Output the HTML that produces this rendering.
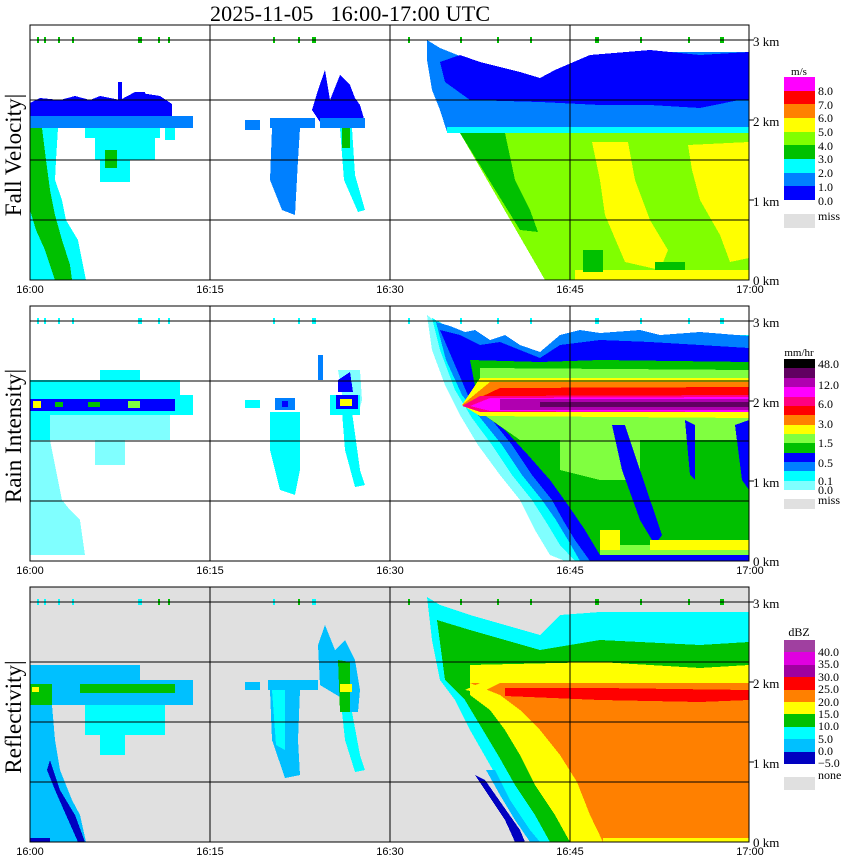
<!DOCTYPE html>
<html><head><meta charset="utf-8"><style>
html,body{margin:0;padding:0;background:#fff;}
svg{display:block;}
.s{font-family:"Liberation Serif",serif;}
.a{font-family:"Liberation Sans",sans-serif;}
</style></head><body>
<svg width="850" height="868" viewBox="0 0 850 868" xmlns="http://www.w3.org/2000/svg" shape-rendering="crispEdges">
<text x="210" y="21" class="s" font-size="22" textLength="280" lengthAdjust="spacing" xml:space="preserve">2025-11-05   16:00-17:00 UTC</text>

<!-- ============ PANEL 1 : Fall velocity ============ -->
<g>
<polygon fill="#0000ff" points="30,103 40,98 60,100 75,96 90,100 100,96 120,100 135,92 160,96 172,104 172,118 30,118"/>
<rect x="118" y="82" width="4" height="18" fill="#0000ff"/><rect x="135" y="92" width="10" height="10" fill="#0000ff"/>
<rect x="30" y="116" width="163" height="12" fill="#0080ff"/>
<polygon fill="#00ffff" points="30,128 58,128 56,160 55,180 62,200 66,220 78,240 86,280 30,280"/>
<polygon fill="#00c000" points="30,128 42,128 46,160 50,190 55,215 62,240 70,265 72,280 55,280 45,250 36,230 30,210"/>
<rect x="85" y="128" width="75" height="10" fill="#00ffff"/>
<rect x="95" y="138" width="55" height="22" fill="#00ffff"/>
<rect x="100" y="160" width="30" height="22" fill="#00ffff"/>
<rect x="105" y="150" width="12" height="18" fill="#00c000"/>
<rect x="140" y="135" width="15" height="25" fill="#00ffff"/>
<rect x="165" y="128" width="10" height="12" fill="#00ffff"/>
<polygon fill="#0000ff" points="318,90 325,70 330,100 340,75 350,85 355,98 360,105 365,122 320,122 312,110"/>
<rect x="245" y="120" width="15" height="10" fill="#0080ff"/>
<rect x="270" y="118" width="45" height="10" fill="#0080ff"/>
<rect x="320" y="118" width="45" height="10" fill="#0080ff"/>
<polygon fill="#0080ff" points="272,128 300,128 298,160 295,215 282,210 270,180"/>
<polygon fill="#00ffff" points="340,128 352,128 355,175 365,210 358,212 344,180"/>
<rect x="342" y="128" width="8" height="20" fill="#00c000"/>
<polygon fill="#0080ff" points="427,40 440,48 470,60 520,72 540,78 555,70 590,55 650,52 749,52 749,132 447,132 440,110 432,90 427,60"/>
<polygon fill="#0000ff" points="440,62 460,55 480,62 520,72 540,78 555,70 590,55 650,50 700,55 749,52 749,98 700,108 650,105 600,105 540,102 470,100 445,82"/>
<rect x="470" y="92" width="279" height="8" fill="#0000ff"/>
<rect x="447" y="127" width="302" height="6" fill="#00ffff"/>
<polygon fill="#80ff00" points="460,133 749,133 749,280 545,280"/>
<polygon fill="#00c000" points="460,133 505,133 515,180 530,210 538,232 520,230"/>
<polygon fill="#ffff00" points="592,142 628,142 635,180 650,220 668,250 660,270 625,262 605,215 600,180"/>
<polygon fill="#ffff00" points="688,145 749,142 749,258 730,262 720,235 700,200 692,170"/>
<rect x="575" y="270" width="174" height="10" fill="#ffff00"/>
<rect x="583" y="250" width="20" height="22" fill="#00c000"/>
<rect x="655" y="262" width="30" height="8" fill="#00c000"/>
<g fill="#00c000"><rect x="37" y="37" width="2" height="6"/><rect x="44" y="37" width="2" height="6"/><rect x="58" y="37" width="2" height="6"/><rect x="72" y="37" width="2" height="6"/><rect x="138" y="37" width="4" height="6"/><rect x="158" y="37" width="2" height="6"/><rect x="168" y="37" width="2" height="6"/><rect x="273" y="37" width="2" height="6"/><rect x="298" y="37" width="2" height="6"/><rect x="312" y="37" width="4" height="6"/><rect x="408" y="37" width="2" height="6"/><rect x="460" y="37" width="2" height="6"/><rect x="497" y="37" width="2" height="6"/><rect x="530" y="37" width="2" height="6"/><rect x="595" y="37" width="4" height="6"/><rect x="640" y="37" width="2" height="6"/><rect x="688" y="37" width="2" height="6"/><rect x="720" y="37" width="4" height="6"/></g>
</g>

<!-- ============ PANEL 2 : Rain intensity ============ -->
<g>
<rect x="30" y="380" width="150" height="18" fill="#00ffff"/>
<rect x="100" y="370" width="40" height="12" fill="#00ffff"/>
<rect x="30" y="412" width="140" height="28" fill="#80ffff"/>
<rect x="30" y="412" width="20" height="30" fill="#00ffff"/>
<rect x="95" y="440" width="30" height="25" fill="#80ffff"/>
<polygon fill="#80ffff" points="30,440 50,440 55,465 62,500 70,510 80,520 85,555 30,555"/>
<rect x="30" y="395" width="163" height="20" fill="#00ffff"/>
<rect x="30" y="399" width="145" height="12" fill="#0000ff"/>
<rect x="33" y="401" width="8" height="7" fill="#ffff00"/><rect x="55" y="402" width="8" height="5" fill="#00c000"/><rect x="88" y="402" width="12" height="5" fill="#00c000"/><rect x="128" y="401" width="12" height="7" fill="#80ff40"/>
<rect x="245" y="400" width="15" height="8" fill="#00ffff"/>
<rect x="275" y="398" width="20" height="12" fill="#0080ff"/><rect x="282" y="401" width="6" height="6" fill="#0000ff"/>
<polygon fill="#00ffff" points="270,412 300,412 300,470 295,495 280,490 270,450"/>
<polygon fill="#80ffff" points="338,370 360,370 362,400 358,415 345,412"/>
<rect x="330" y="395" width="30" height="20" fill="#00ffff"/>
<polygon fill="#0000ff" points="338,380 350,372 353,392 338,392"/>
<rect x="336" y="395" width="22" height="14" fill="#0000ff"/>
<rect x="340" y="399" width="12" height="7" fill="#ffff00"/>
<polygon fill="#00ffff" points="342,412 352,412 360,470 365,485 355,487 345,450"/>
<rect x="318" y="355" width="5" height="25" fill="#0080ff"/>
<polygon fill="#80ffff" points="427,315 440,325 470,335 540,355 560,340 600,335 749,335 749,561 565,561 550,555 535,530 520,500 500,475 478,445 460,415 445,385 432,350"/>
<polygon fill="#00ffff" points="432,318 445,325 470,335 540,355 560,340 600,335 749,335 749,561 575,561 560,545 548,525 532,500 512,475 492,445 472,418 455,390 440,350"/>
<polygon fill="#0080ff" points="436,322 450,326 465,332 475,330 490,340 505,335 520,345 540,352 560,335 580,330 600,333 640,330 660,335 700,332 749,336 749,561 580,561 568,540 556,520 542,500 522,475 502,445 482,420 462,395 446,360"/>
<polygon fill="#0000ff" points="440,330 460,335 480,345 500,342 540,358 560,345 600,340 650,342 700,345 749,348 749,561 590,561 575,540 563,520 552,500 532,475 512,445 492,420 470,400 455,365"/>
<polygon fill="#00c000" points="470,360 540,362 600,360 749,362 749,555 600,555 585,530 568,505 550,480 528,455 505,430 480,412"/>
<rect x="600" y="545" width="149" height="10" fill="#80ff40"/>
<polygon fill="#80ff40" points="480,368 749,370 749,440 600,440 520,440 480,412"/>
<polygon fill="#80ff40" points="560,440 640,440 640,480 600,480 560,470"/>
<polygon fill="#ffff00" points="480,378 749,378 749,418 480,416 462,405"/>
<polygon fill="#ff8000" points="490,382 749,382 749,414 490,412 462,405"/>
<polygon fill="#ff0000" points="500,388 749,387 749,413 500,413 462,406"/>
<polygon fill="#ff0080" points="480,396 749,395 749,412 480,412 462,406"/>
<polygon fill="#ff00ff" points="490,398 749,397 749,412 490,411 470,406"/>
<rect x="500" y="399" width="249" height="11" fill="#b000b0"/>
<rect x="540" y="402" width="209" height="5" fill="#600060"/>
<rect x="480" y="412" width="269" height="4" fill="#ffff00"/>
<polygon fill="#0000ff" points="612,425 625,425 640,470 662,535 655,545 640,520 622,470"/>
<polygon fill="#0000ff" points="685,420 695,425 695,480 690,475"/>
<polygon fill="#0000ff" points="735,425 749,420 749,490 742,480"/>
<rect x="600" y="530" width="20" height="20" fill="#ffff00"/>
<rect x="650" y="540" width="99" height="10" fill="#ffff00"/>
<rect x="590" y="555" width="159" height="6" fill="#0000ff"/>
<g fill="#00ffff"><rect x="37" y="318" width="2" height="6"/><rect x="44" y="318" width="2" height="6"/><rect x="58" y="318" width="2" height="6"/><rect x="72" y="318" width="2" height="6"/><rect x="138" y="318" width="4" height="6"/><rect x="158" y="318" width="2" height="6"/><rect x="168" y="318" width="2" height="6"/><rect x="273" y="318" width="2" height="6"/><rect x="298" y="318" width="2" height="6"/><rect x="312" y="318" width="4" height="6"/><rect x="408" y="318" width="2" height="6"/><rect x="460" y="318" width="2" height="6"/><rect x="497" y="318" width="2" height="6"/><rect x="530" y="318" width="2" height="6"/><rect x="595" y="318" width="4" height="6"/><rect x="640" y="318" width="2" height="6"/><rect x="688" y="318" width="2" height="6"/><rect x="720" y="318" width="4" height="6"/></g>
</g>

<!-- ============ PANEL 3 : Reflectivity ============ -->
<g>
<rect x="30" y="587" width="719" height="255" fill="#e0e0e0"/>
<rect x="30" y="665" width="110" height="18" fill="#00c0ff"/>
<rect x="30" y="680" width="163" height="25" fill="#00c0ff"/>
<rect x="85" y="705" width="80" height="30" fill="#00ffff"/>
<rect x="100" y="735" width="25" height="20" fill="#00ffff"/>
<rect x="30" y="700" width="22" height="25" fill="#00ffff"/>
<rect x="80" y="684" width="95" height="9" fill="#00c000"/>
<rect x="30" y="684" width="22" height="22" fill="#00c000"/>
<rect x="32" y="687" width="7" height="5" fill="#ffff00"/>
<polygon fill="#00c0ff" points="30,705 52,705 55,740 60,770 72,800 80,815 86,842 30,842"/>
<polygon fill="#0000c0" points="50,760 60,790 75,815 85,842 78,842 66,815 55,790 47,770"/>
<rect x="30" y="838" width="20" height="4" fill="#0000c0"/>
<rect x="245" y="682" width="15" height="8" fill="#00c0ff"/>
<rect x="268" y="680" width="50" height="10" fill="#00c0ff"/>
<polygon fill="#00c0ff" points="270,690 300,690 298,740 300,775 285,778 272,740"/>
<polygon fill="#00ffff" points="272,690 285,690 285,750 276,745"/>
<polygon fill="#00c0ff" points="318,645 325,625 335,650 345,640 355,660 360,690 358,712 350,712 345,700 320,685"/>
<polygon fill="#00c000" points="338,660 350,662 350,712 340,712"/>
<rect x="340" y="684" width="12" height="8" fill="#ffff00"/>
<polygon fill="#00ffff" points="342,712 352,712 360,755 365,770 355,772 345,740"/>
<polygon fill="#00ffff" points="427,597 440,605 470,615 540,635 560,615 600,612 749,612 749,842 540,842 530,830 510,800 490,765 470,730 455,700 440,680 432,640"/>
<polygon fill="#00c0ff" points="495,770 510,800 530,830 540,842 530,842 515,820 500,795 486,770"/>
<polygon fill="#0000c0" points="475,775 485,780 520,830 525,842 515,842 505,820"/>
<polygon fill="#00c000" points="437,620 470,630 540,650 600,640 700,645 749,642 749,842 550,842 535,815 515,785 498,755 480,725 465,700 445,680"/>
<polygon fill="#ffff00" points="470,665 600,662 700,668 749,665 749,842 570,842 555,815 535,785 520,755 505,730 490,710 470,695"/>
<polygon fill="#ff8000" points="470,683 749,683 749,842 603,842 590,815 577,782 560,755 540,730 520,710 500,695"/>
<polygon fill="#ffff00" points="465,690 480,683 500,683 480,693"/>
<polygon fill="#ff0000" points="505,688 600,688 749,690 749,700 700,702 600,700 505,696"/>
<rect x="603" y="838" width="146" height="4" fill="#ffff00"/>
<g fill="#00c000"><rect x="37" y="599" width="2" height="6" fill="#00ffff"/><rect x="44" y="599" width="2" height="6" fill="#00ffff"/><rect x="58" y="599" width="2" height="6" fill="#00ffff"/><rect x="72" y="599" width="2" height="6" fill="#00ffff"/><rect x="138" y="599" width="4" height="6" fill="#00ffff"/><rect x="158" y="599" width="2" height="6"/><rect x="168" y="599" width="2" height="6"/><rect x="273" y="599" width="2" height="6" fill="#00ffff"/><rect x="298" y="599" width="2" height="6"/><rect x="312" y="599" width="4" height="6" fill="#00ffff"/><rect x="408" y="599" width="2" height="6"/><rect x="460" y="599" width="2" height="6"/><rect x="497" y="599" width="2" height="6"/><rect x="530" y="599" width="2" height="6"/><rect x="595" y="599" width="4" height="6"/><rect x="640" y="599" width="2" height="6"/><rect x="688" y="599" width="2" height="6"/><rect x="720" y="599" width="4" height="6"/></g>
</g>

<g fill="none" stroke="#000" stroke-width="1.3">
<rect x="30" y="25" width="719" height="255"/>
<rect x="30" y="306" width="719" height="255"/>
<rect x="30" y="587" width="719" height="255"/>
<path d="M30 40H749M30 100H749M30 160H749M30 220H749M210 25V280M390 25V280M570 25V280"/>
<path d="M30 321H749M30 381H749M30 441H749M30 501H749M210 306V561M390 306V561M570 306V561"/>
<path d="M30 602H749M30 662H749M30 722H749M30 782H749M210 587V842M390 587V842M570 587V842"/>
<path d="M749 40H754M749 120H754M749 200H754M749 321H754M749 401H754M749 481H754M749 602H754M749 682H754M749 762H754"/>
</g>

<g class="s" font-size="13">
<text x="753" y="46">3 km</text><text x="753" y="126">2 km</text><text x="753" y="206">1 km</text><text x="753" y="285">0 km</text>
<text x="753" y="327">3 km</text><text x="753" y="407">2 km</text><text x="753" y="487">1 km</text><text x="753" y="566">0 km</text>
<text x="753" y="608">3 km</text><text x="753" y="688">2 km</text><text x="753" y="768">1 km</text><text x="753" y="847">0 km</text>
</g>
<g class="a" font-size="11" text-anchor="middle">
<text x="30" y="293">16:00</text><text x="210" y="293">16:15</text><text x="390" y="293">16:30</text><text x="570" y="293">16:45</text><text x="750" y="293">17:00</text>
<text x="30" y="574">16:00</text><text x="210" y="574">16:15</text><text x="390" y="574">16:30</text><text x="570" y="574">16:45</text><text x="750" y="574">17:00</text>
<text x="30" y="855">16:00</text><text x="210" y="855">16:15</text><text x="390" y="855">16:30</text><text x="570" y="855">16:45</text><text x="750" y="855">17:00</text>
</g>
<g class="s" font-size="23" text-anchor="middle">
<text transform="translate(21,155) rotate(-90)">Fall Velocity|</text>
<text transform="translate(21,436) rotate(-90)">Rain Intensity|</text>
<text transform="translate(21,717) rotate(-90)">Reflectivity|</text>
</g>

<g>
<text x="799" y="75" class="s" font-size="11" text-anchor="middle">m/s</text>
<rect x="784" y="77" width="31" height="14" fill="#ff00ff"/>
<rect x="784" y="91" width="31" height="14" fill="#ff0000"/>
<rect x="784" y="104" width="31" height="14" fill="#ff8000"/>
<rect x="784" y="118" width="31" height="14" fill="#ffff00"/>
<rect x="784" y="132" width="31" height="14" fill="#80ff00"/>
<rect x="784" y="145" width="31" height="14" fill="#00c000"/>
<rect x="784" y="159" width="31" height="14" fill="#00ffff"/>
<rect x="784" y="173" width="31" height="14" fill="#0080ff"/>
<rect x="784" y="186" width="31" height="14" fill="#0000ff"/>
<rect x="784" y="214" width="31" height="14" fill="#e0e0e0"/>
<g class="s" font-size="12"><text x="818" y="95">8.0</text><text x="818" y="109">7.0</text><text x="818" y="122">6.0</text><text x="818" y="136">5.0</text><text x="818" y="150">4.0</text><text x="818" y="163">3.0</text><text x="818" y="177">2.0</text><text x="818" y="191">1.0</text><text x="818" y="205">0.0</text><text x="818" y="220">miss</text></g>
</g>
<g>
<text x="799" y="356" class="s" font-size="11" text-anchor="middle">mm/hr</text>
<rect x="784" y="359" width="31" height="10" fill="#000000"/>
<rect x="784" y="368" width="31" height="10" fill="#600060"/>
<rect x="784" y="378" width="31" height="10" fill="#b000b0"/>
<rect x="784" y="387" width="31" height="10" fill="#ff00ff"/>
<rect x="784" y="397" width="31" height="10" fill="#ff0080"/>
<rect x="784" y="406" width="31" height="10" fill="#ff0000"/>
<rect x="784" y="415" width="31" height="10" fill="#ff8000"/>
<rect x="784" y="425" width="31" height="10" fill="#ffff00"/>
<rect x="784" y="434" width="31" height="10" fill="#80ff40"/>
<rect x="784" y="443" width="31" height="10" fill="#00c000"/>
<rect x="784" y="453" width="31" height="10" fill="#0000ff"/>
<rect x="784" y="462" width="31" height="10" fill="#0080ff"/>
<rect x="784" y="471" width="31" height="10" fill="#00ffff"/>
<rect x="784" y="481" width="31" height="9" fill="#80ffff"/>
<rect x="784" y="499" width="31" height="10" fill="#e0e0e0"/>
<g class="s" font-size="12"><text x="818" y="368">48.0</text><text x="818" y="389">12.0</text><text x="818" y="408">6.0</text><text x="818" y="428">3.0</text><text x="818" y="447">1.5</text><text x="818" y="467">0.5</text><text x="818" y="485">0.1</text><text x="818" y="494">0.0</text><text x="818" y="504">miss</text></g>
</g>
<g>
<text x="799" y="636" class="s" font-size="12" text-anchor="middle">dBZ</text>
<rect x="784" y="640" width="31" height="13" fill="#a040a0"/>
<rect x="784" y="652" width="31" height="13" fill="#e000e0"/>
<rect x="784" y="665" width="31" height="13" fill="#a000a0"/>
<rect x="784" y="677" width="31" height="13" fill="#ff0000"/>
<rect x="784" y="690" width="31" height="13" fill="#ff8000"/>
<rect x="784" y="702" width="31" height="13" fill="#ffff00"/>
<rect x="784" y="714" width="31" height="13" fill="#00c000"/>
<rect x="784" y="727" width="31" height="13" fill="#00ffff"/>
<rect x="784" y="739" width="31" height="13" fill="#00c0ff"/>
<rect x="784" y="752" width="31" height="12" fill="#0000c0"/>
<rect x="784" y="777" width="31" height="13" fill="#e0e0e0"/>
<g class="s" font-size="12"><text x="818" y="656">40.0</text><text x="818" y="668">35.0</text><text x="818" y="681">30.0</text><text x="818" y="693">25.0</text><text x="818" y="706">20.0</text><text x="818" y="718">15.0</text><text x="818" y="730">10.0</text><text x="818" y="743">5.0</text><text x="818" y="755">0.0</text><text x="818" y="767">−5.0</text><text x="818" y="779">none</text></g>
</g>
</svg>
</body></html>
